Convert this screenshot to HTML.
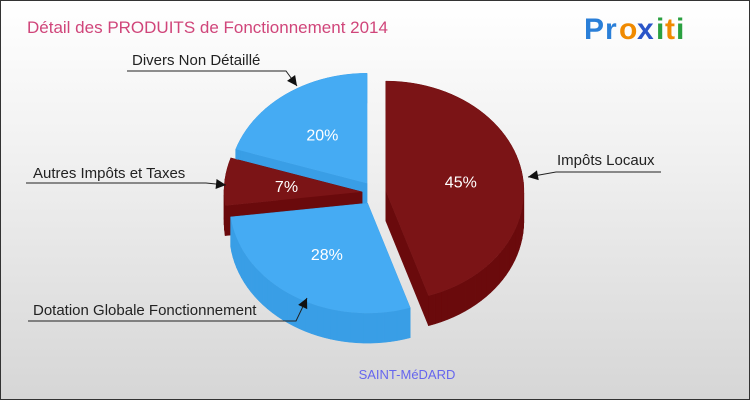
<!DOCTYPE html>
<html><head><meta charset="utf-8"><style>
body{margin:0;}
#wrap{width:748px;height:398px;border:1px solid #333;position:relative;overflow:hidden;
background:linear-gradient(#ffffff 0%,#f0f0f0 40%,#d6d6d6 100%);font-family:"Liberation Sans",sans-serif;}
svg{position:absolute;left:0;top:0;}
</style></head><body>
<div id="wrap">
<svg id="chart" width="750" height="400">
<text x="26" y="32" font-size="17" fill="#d0457a">Détail des PRODUITS de Fonctionnement 2014</text>
<g font-size="30" font-weight="bold">
<text x="583" y="38" fill="#2a7fd8">P</text><text x="604" y="38" fill="#2a7fd8">r</text><text x="618" y="38" fill="#f08a00">o</text><text x="636" y="38" fill="#2a55c8">x</text><text x="655" y="38" fill="#2aa040">i</text><text x="664" y="38" fill="#f08a00">t</text><text x="675" y="38" fill="#2aa040">i</text>
</g>
<text x="406" y="378" font-size="13" fill="#6666ee" text-anchor="middle">SAINT-MéDARD</text>
<g id="sides"></g><g id="tops"></g><g id="pcts"></g><g id="labels"></g>
</svg>
</div>
<script>
const categories=["Impôts Locaux","Dotation Globale Fonctionnement","Autres Impôts et Taxes","Divers Non Détaillé"];
const values=[45,28,7,20];
const pctLabels=["45%","28%","7%","20%"];
const NS="http://www.w3.org/2000/svg";
const cx=373,cy=192,rx=138,ry=110,depth=30,explode=12;
const topCol=["#7b1416","#45abf3","#7b1416","#45abf3"];
const sideCol=["#6a0a0c","#399ee6","#6a0a0c","#399ee6"];
function pt(ox,oy,t,r){return [ox+rx*r*Math.sin(t),oy-ry*r*Math.cos(t)];}
const total=values.reduce((a,b)=>a+b,0);
let a0=0;const quads=[];const tops=document.getElementById('tops'),sides=document.getElementById('sides'),pcts=document.getElementById('pcts');
values.forEach((v,i)=>{
 const a1=a0+v/total*2*Math.PI,m=(a0+a1)/2;
 const ox=cx+explode*Math.sin(m),oy=cy-explode*Math.cos(m);
 const n=Math.max(4,Math.ceil((a1-a0)/0.05));const arc=[];
 for(let k=0;k<=n;k++)arc.push(pt(ox,oy,a0+(a1-a0)*k/n,1));
 for(let k=0;k<n;k++){const p=arc[k],q=arc[k+1];quads.push({y:(p[1]+q[1])/2+depth,pts:[p,q,[q[0],q[1]+depth],[p[0],p[1]+depth]],c:sideCol[i]});}
 [arc[0],arc[n]].forEach(p=>quads.push({y:(p[1]+oy)/2,pts:[[ox,oy],p,[p[0],p[1]+depth],[ox,oy+depth]],c:sideCol[i]}));
 const path=document.createElementNS(NS,'path');
 path.setAttribute('d','M'+ox+','+oy+' L'+arc.map(p=>p.join(',')).join(' L')+' Z');
 path.setAttribute('fill',topCol[i]);
 
 
 tops.appendChild(path);
 const lp=pt(ox,oy,m,0.55);
 const t=document.createElementNS(NS,'text');
 t.setAttribute('x',lp[0]);t.setAttribute('y',lp[1]+6);t.setAttribute('fill','#fff');t.setAttribute('font-size','16');t.setAttribute('text-anchor','middle');
 
 
 t.textContent=pctLabels[i];pcts.appendChild(t);
 a0=a1;
});
quads.sort((a,b)=>a.y-b.y).forEach(q=>{const p=document.createElementNS(NS,'polygon');p.setAttribute('points',q.pts.map(x=>x.join(',')).join(' '));p.setAttribute('fill',q.c);p.setAttribute('stroke',q.c);p.setAttribute('stroke-width','0.5');sides.appendChild(p);});
const L=[
 {t:categories[0],tx:556,ty:164,line:[[660,171],[555,171],[527,176]]},
 {t:categories[1],tx:32,ty:314,line:[[27,320],[295,320],[306,297]]},
 {t:categories[2],tx:32,ty:177,line:[[25,182],[205,182],[225,184]]},
 {t:categories[3],tx:131,ty:64,line:[[126,70],[285,70],[296,85]]}
];
const lg=document.getElementById('labels');
L.forEach(l=>{
 const g=document.createElementNS(NS,'g');
 
 
 const t=document.createElementNS(NS,'text');t.setAttribute('x',l.tx);t.setAttribute('y',l.ty);t.setAttribute('font-size','15');t.setAttribute('fill','#222');t.textContent=l.t;g.appendChild(t);
 const pl=document.createElementNS(NS,'polyline');pl.setAttribute('points',l.line.map(p=>p.join(',')).join(' '));pl.setAttribute('fill','none');pl.setAttribute('stroke','#222');pl.setAttribute('stroke-width','1');g.appendChild(pl);
 const e=l.line[2],s=l.line[1];const ang=Math.atan2(e[1]-s[1],e[0]-s[0]);
 const ar=document.createElementNS(NS,'polygon');
 const b1=[e[0]-10*Math.cos(ang)+5*Math.sin(ang),e[1]-10*Math.sin(ang)-5*Math.cos(ang)],b2=[e[0]-10*Math.cos(ang)-5*Math.sin(ang),e[1]-10*Math.sin(ang)+5*Math.cos(ang)];
 ar.setAttribute('points',[e,b1,b2].map(p=>p.join(',')).join(' '));ar.setAttribute('fill','#111');g.appendChild(ar);
 lg.appendChild(g);
});
</script>
</body></html>
